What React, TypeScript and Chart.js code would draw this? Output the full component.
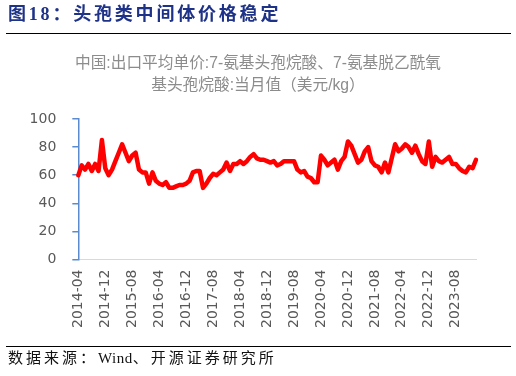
import React, { useEffect, useRef } from 'react';
import { Chart, registerables } from 'chart.js';

Chart.register(...registerables);

// Monthly export unit price, USD/kg, 2014-04 .. 2024-02
const START_YEAR = 2014;
const START_MONTH = 4;

const PRICES: number[] = [
  60, 67, 64, 68, 63, 68, 63, 85, 65, 60,
  64, 70, 76, 82, 76, 70, 74, 76, 64, 62,
  62, 54, 62, 56, 54, 53, 55, 51, 51, 52,
  53, 53, 54, 56, 62, 63, 63, 51, 54, 58,
  61, 60, 62, 64, 69, 63, 68, 68, 70, 68,
  70, 73, 75, 72, 71, 71, 70, 69, 70, 67,
  68, 70, 70, 70, 70, 64, 62, 63, 59, 58,
  55, 55, 74, 71, 67, 69, 71, 64, 70, 73,
  84, 81, 75, 69, 71, 77, 80, 70, 67, 66,
  62, 69, 62, 72, 82, 77, 79, 82, 80, 76,
  81, 75, 70, 68, 84, 66, 73, 70, 69, 71,
  73, 68, 68, 65, 63, 62, 66, 65, 71,
];

const CATEGORIES: string[] = PRICES.map((_, i) => {
  const t = START_MONTH - 1 + i;
  const y = START_YEAR + Math.floor(t / 12);
  const m = (t % 12) + 1;
  return `${y}-${String(m).padStart(2, '0')}`;
});

const TICK_LABELS: string[] = [
  '2014-04', '2014-12', '2015-08', '2016-04', '2016-12', '2017-08', '2018-04',
  '2018-12', '2019-08', '2020-04', '2020-12', '2021-08', '2022-04', '2022-12', '2023-08',
];

const Y_MIN = 0;
const Y_MAX = 100;
const Y_STEP = 20;

const TITLE = '图18：头孢类中间体价格稳定';
const CHART_TITLE_1 = '中国:出口平均单价:7-氨基头孢烷酸、7-氨基脱乙酰氧';
const CHART_TITLE_2 = '基头孢烷酸:当月值（美元/kg）';
const SOURCE_A = '数据来源：';
const SOURCE_B = 'Wind';
const SOURCE_C = '、开源证券研究所';

export default function App() {
  const canvasRef = useRef<HTMLCanvasElement | null>(null);

  useEffect(() => {
    const canvas = canvasRef.current;
    if (!canvas) return;
    const chart = new Chart(canvas, {
      type: 'line',
      data: {
        labels: CATEGORIES,
        datasets: [
          {
            data: PRICES,
            borderColor: '#FF0000',
            backgroundColor: '#FF0000',
            borderWidth: 4.5,
            pointRadius: 0,
            tension: 0,
            borderJoinStyle: 'round',
            borderCapStyle: 'round',
            fill: false,
          },
        ],
      },
      options: {
        responsive: false,
        animation: false,
        devicePixelRatio: 1,
        layout: { padding: { left: 13.6, right: 40, top: 119, bottom: 38 } },
        plugins: {
          legend: { display: false },
          tooltip: { enabled: false },
          title: { display: false },
        },
        scales: {
          x: {
            type: 'category',
            offset: false,
            grid: { display: true, drawOnChartArea: false, drawTicks: false },
            border: { display: true, color: '#D9D9D9', width: 1 },
            ticks: {
              autoSkip: false,
              maxRotation: 90,
              minRotation: 90,
              padding: 10,
              color: '#595959',
              font: { family: 'DejaVu Sans', size: 14 },
              callback: (_v: any, idx: number) =>
                TICK_LABELS.includes(CATEGORIES[idx]) ? CATEGORIES[idx] : '',
            },
          },
          y: {
            min: Y_MIN,
            max: Y_MAX,
            ticks: {
              stepSize: Y_STEP,
              padding: 16,
              color: '#595959',
              font: { family: 'DejaVu Sans', size: 14 },
            },
            grid: {
              display: true,
              drawOnChartArea: false,
              drawTicks: true,
              tickLength: 6,
              color: '#5B8BCF',
              lineWidth: 1.5,
            },
            border: { display: true, color: '#5B8BCF', width: 1.5 },
          },
        },
      },
    });
    return () => chart.destroy();
  }, []);

  return (
    <div
      style={{
        position: 'absolute',
        left: 0,
        top: 0,
        width: 516,
        height: 376,
        background: '#ffffff',
        overflow: 'hidden',
      }}
    >
      <canvas
        ref={canvasRef}
        width={516}
        height={376}
        style={{ position: 'absolute', left: 0, top: 0, width: 516, height: 376 }}
      />
      <div
        style={{
          position: 'absolute',
          left: 8,
          top: 2,
          fontFamily: '"Liberation Serif", "Noto Sans CJK SC", serif',
          fontWeight: 'bold',
          fontSize: 18,
          lineHeight: '24px',
          letterSpacing: '2.8px',
          color: '#1E3287',
          whiteSpace: 'nowrap',
        }}
      >
        {TITLE}
      </div>
      <div style={{ position: 'absolute', left: 6, top: 33, width: 505, height: 1, background: '#000' }} />
      <div
        style={{
          position: 'absolute',
          left: 0,
          top: 52,
          width: 516,
          textAlign: 'center',
          fontFamily: '"Liberation Sans", "Noto Sans CJK SC", sans-serif',
          fontSize: 15.7,
          lineHeight: '22px',
          color: '#8C8C8C',
          whiteSpace: 'nowrap',
        }}
      >
        <div>{CHART_TITLE_1}</div>
        <div>{CHART_TITLE_2}</div>
      </div>
      <div style={{ position: 'absolute', left: 6, top: 346, width: 505, height: 1, background: '#000' }} />
      <div
        style={{
          position: 'absolute',
          left: 8,
          top: 348,
          fontFamily: '"Liberation Serif", "Noto Sans CJK SC", serif',
          fontSize: 15,
          lineHeight: '20px',
          letterSpacing: '3px',
          color: '#111',
          whiteSpace: 'nowrap',
        }}
      >
        {SOURCE_A}
        <span style={{ letterSpacing: '0.5px' }}>{SOURCE_B}</span>
        {SOURCE_C}
      </div>
    </div>
  );
}
